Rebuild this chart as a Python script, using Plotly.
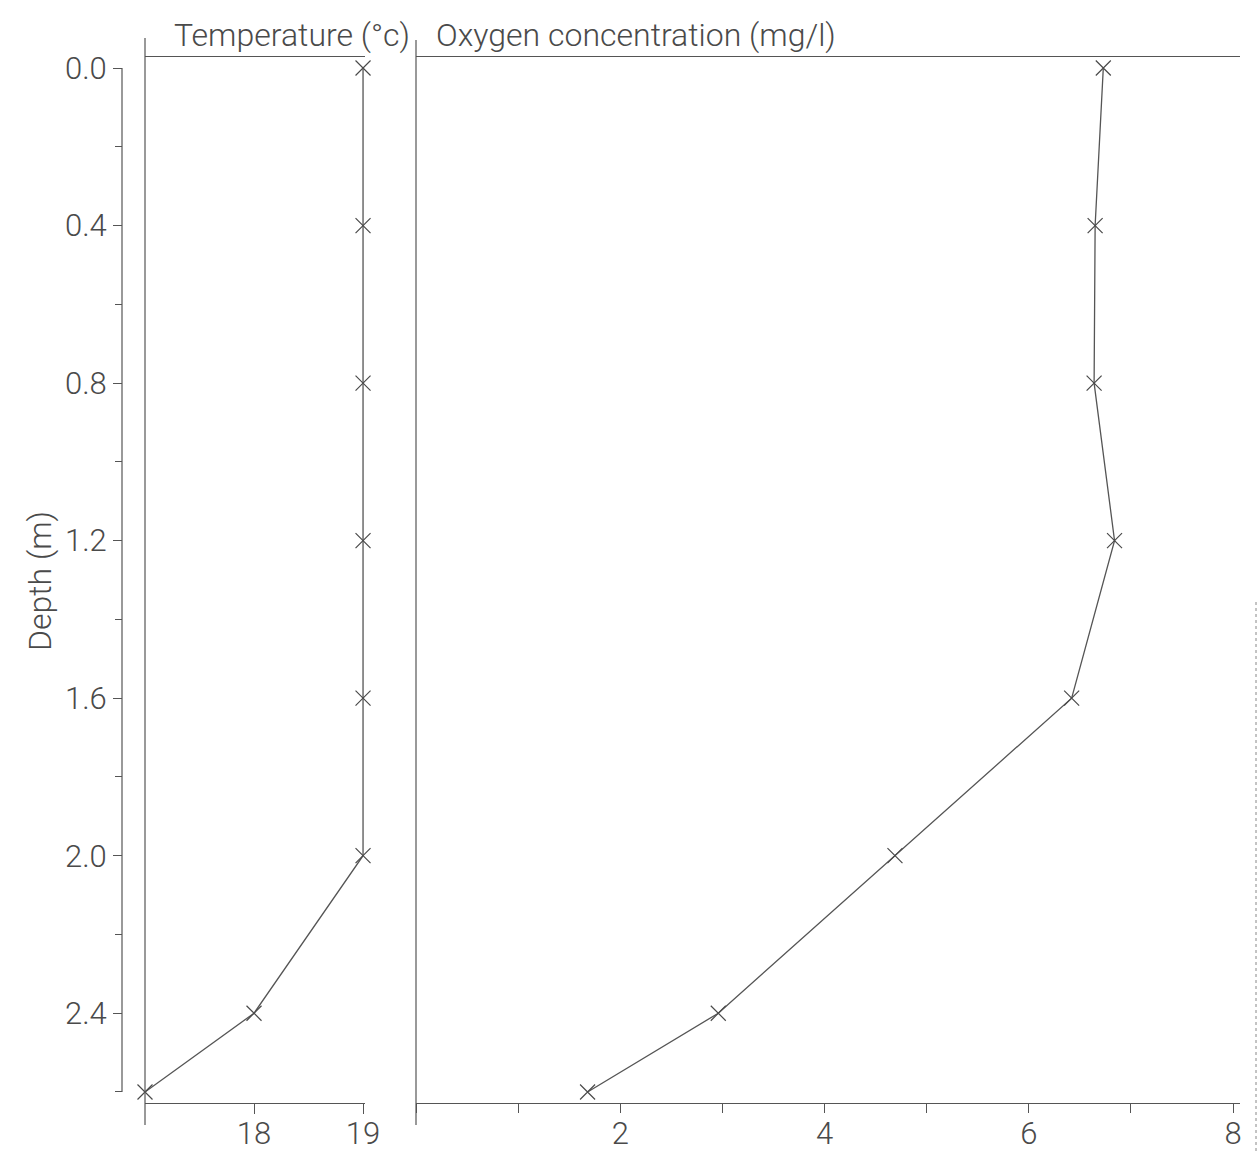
import plotly.graph_objects as go

# ---- data ----
depth_temp = [0.0, 0.4, 0.8, 1.2, 1.6, 2.0, 2.4, 2.6]
temperature = [19.0, 19.0, 19.0, 19.0, 19.0, 19.0, 18.0, 17.0]

depth_oxy = [0.0, 0.4, 0.8, 1.2, 1.6, 2.0, 2.4, 2.6]
oxygen = [6.73, 6.65, 6.64, 6.84, 6.42, 4.69, 2.96, 1.68]

depth_ticks = [0.0, 0.4, 0.8, 1.2, 1.6, 2.0, 2.4]
temp_ticks = [18, 19]
oxy_ticks = [2, 4, 6, 8]

W, H = 1258, 1151
FONT = "Roboto, Lato, Liberation Sans, sans-serif"
FW = 300
INK = "#4a4a4a"
LINE = "#555555"


def px(x):
    return x / W


def py(y):
    return 1 - y / H


fig = go.Figure()

fig.add_trace(go.Scatter(
    x=temperature, y=depth_temp, xaxis="x", yaxis="y", mode="lines+markers",
    line=dict(color=LINE, width=1.3),
    marker=dict(symbol="x-thin", size=15, line=dict(color=INK, width=1.2)),
    showlegend=False, cliponaxis=False,
))
fig.add_trace(go.Scatter(
    x=oxygen, y=depth_oxy, xaxis="x2", yaxis="y", mode="lines+markers",
    line=dict(color=LINE, width=1.3),
    marker=dict(symbol="x-thin", size=15, line=dict(color=INK, width=1.2)),
    showlegend=False, cliponaxis=False,
))

axis_common = dict(showgrid=False, zeroline=False, linecolor=LINE, linewidth=1.2,
                   tickcolor=LINE, tickwidth=1.2,
                   tickfont=dict(family=FONT, size=31, color=INK, weight=FW))

fig.update_layout(
    width=W, height=H,
    margin=dict(l=0, r=0, t=0, b=0),
    paper_bgcolor="white", plot_bgcolor="white",
    template="none",
    xaxis=dict(domain=[px(145), px(365)], range=[17, 19.018], anchor="y",
               tickvals=temp_ticks, ticks="outside", ticklen=10, ticklabelstandoff=-7,
               showline=True, mirror=True, automargin=False, **axis_common),
    xaxis2=dict(domain=[px(416), px(1240)], range=[0, 8.0685], anchor="y",
                tickvals=oxy_ticks, ticks="outside", ticklen=9, ticklabelstandoff=-6,
                minor=dict(dtick=1, ticks="outside", ticklen=9, tickcolor=LINE, tickwidth=1.2),
                showline=True, mirror=True, automargin=False, **axis_common),
    yaxis=dict(domain=[py(1103), py(57)], range=[2.628, -0.028],
               anchor="free", position=px(122), side="left",
               tickvals=depth_ticks, tickformat=".1f", ticks="outside", ticklen=9,
               minor=dict(tickvals=[0.2, 0.6, 1.0, 1.4, 1.8, 2.2, 2.6], ticks="outside",
                          ticklen=7, tickcolor=LINE, tickwidth=1.2),
               showline=False, automargin=False, **axis_common),
)

shapes = [
    # depth axis line
    dict(type="line", xref="paper", yref="y", x0=px(122), x1=px(122), y0=0, y1=2.6,
         line=dict(color=LINE, width=1.2)),
    # left borders of both panels (extending slightly beyond frame)
    dict(type="line", xref="paper", yref="paper", x0=px(145), x1=px(145), y0=py(1125), y1=py(38),
         line=dict(color=LINE, width=1.2)),
    dict(type="line", xref="paper", yref="paper", x0=px(416), x1=px(416), y0=py(1125), y1=py(40),
         line=dict(color=LINE, width=1.2)),
    # faint edge line at right
    dict(type="line", xref="paper", yref="paper", x0=px(1256), x1=px(1256), y0=0, y1=py(600),
         line=dict(color="#888888", width=1, dash="dot")),
]
fig.update_layout(shapes=shapes)

title_font = dict(family=FONT, size=32, color=INK, weight=FW)
fig.add_annotation(text="Temperature (°c)", xref="paper", yref="paper",
                   x=px(172), y=py(35), xanchor="left", yanchor="middle", showarrow=False,
                   font=title_font)
fig.add_annotation(text="Oxygen concentration (mg/l)", xref="paper", yref="paper",
                   x=px(434), y=py(35), xanchor="left", yanchor="middle", showarrow=False,
                   font=title_font)
fig.add_annotation(text="Depth (m)", xref="paper", yref="paper",
                   x=px(40), y=py(581), xanchor="center", yanchor="middle", showarrow=False,
                   textangle=-90, font=title_font)

fig.write_html("out.html", config={"displayModeBar": False},
               post_script="document.body.style.margin='0';document.body.style.overflow='hidden';")
